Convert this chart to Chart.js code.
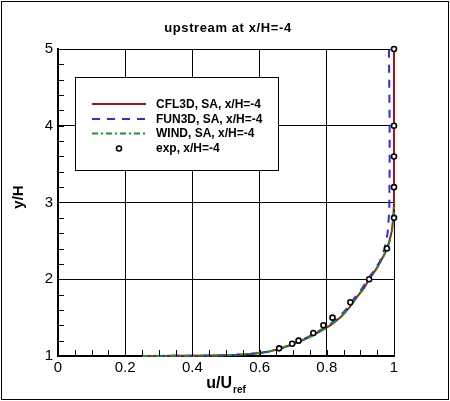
<!DOCTYPE html>
<html>
<head>
<meta charset="utf-8">
<script src="https://cdn.jsdelivr.net/npm/chart.js@4.4.1/dist/chart.umd.min.js"></script>
<style>
  html, body { margin: 0; padding: 0; background: #fff; }
  #wrap { width: 450px; height: 401px; position: relative; }
</style>
</head>
<body>
<div id="wrap"><canvas id="c" width="450" height="401"></canvas></div>
<script>
// ---- data ----
const titleText = "upstream at x/H=-4";
const xLabelMain = "u/U";
const xLabelSub = "ref";
const yLabelText = "y/H";

const seriesNames = ["CFL3D, SA, x/H=-4", "FUN3D, SA, x/H=-4", "WIND, SA, x/H=-4", "exp, x/H=-4"];

const cfl3dU = [0.25, 0.40, 0.48, 0.53, 0.57, 0.60, 0.63, 0.66, 0.69, 0.72, 0.75, 0.78, 0.81, 0.84, 0.865, 0.89, 0.91, 0.926, 0.945, 0.96, 0.975, 0.985, 0.993, 0.998, 1.0, 1.0, 1.0, 1.0, 1.0];
const cfl3dY = [1.0, 1.003, 1.008, 1.015, 1.025, 1.038, 1.06, 1.095, 1.14, 1.19, 1.25, 1.32, 1.40, 1.50, 1.62, 1.77, 1.88, 2.0, 2.12, 2.23, 2.36, 2.48, 2.62, 2.8, 3.0, 3.5, 4.0, 4.5, 5.0];

const fun3dU = [0.25, 0.40, 0.48, 0.53, 0.57, 0.60, 0.63, 0.66, 0.69, 0.715, 0.745, 0.775, 0.805, 0.835, 0.86, 0.885, 0.905, 0.922, 0.942, 0.958, 0.972, 0.981, 0.986, 0.987, 0.987, 0.986, 0.985];
const fun3dY = [1.0, 1.003, 1.008, 1.015, 1.025, 1.038, 1.06, 1.095, 1.14, 1.19, 1.25, 1.32, 1.40, 1.50, 1.62, 1.77, 1.88, 2.0, 2.12, 2.23, 2.4, 2.6, 2.9, 3.5, 4.0, 4.5, 5.0];

const windU = [0.25, 0.40, 0.48, 0.53, 0.57, 0.60, 0.63, 0.66, 0.69, 0.72, 0.75, 0.78, 0.81, 0.84, 0.865, 0.89, 0.91, 0.927, 0.946, 0.961, 0.976, 0.986, 0.994, 0.999, 1.001, 1.001, 1.001, 1.001, 1.001];
const windY = [1.0, 1.003, 1.008, 1.015, 1.025, 1.038, 1.06, 1.095, 1.14, 1.19, 1.25, 1.32, 1.40, 1.50, 1.62, 1.77, 1.88, 2.0, 2.12, 2.23, 2.36, 2.48, 2.62, 2.8, 3.0, 3.5, 4.0, 4.5, 5.0];

const expU = [0.658, 0.697, 0.716, 0.760, 0.790, 0.817, 0.870, 0.926, 0.979, 1.0, 1.0, 1.0, 1.0, 1.0];
const expY = [1.10, 1.16, 1.20, 1.30, 1.40, 1.50, 1.70, 2.00, 2.40, 2.80, 3.20, 3.60, 4.00, 5.00];

const xTicks = [0, 0.2, 0.4, 0.6, 0.8, 1];
const yTicks = [1, 2, 3, 4, 5];

// ---- build ----
const pts = (xs, ys) => xs.map((x, i) => ({ x: x, y: ys[i] }));

const colRed = "rgb(180,14,22)";
const colBlue = "rgb(45,45,225)";
const colGreen = "rgb(25,150,30)";

const datasets = [
  { label: seriesNames[0], data: pts(cfl3dU, cfl3dY), showLine: true, borderColor: colRed, borderWidth: 2, pointRadius: 0, order: 3, clip: 6, legendDash: [] },
  { label: seriesNames[1], data: pts(fun3dU, fun3dY), showLine: true, borderColor: colBlue, borderWidth: 2, borderDash: [8, 7], pointRadius: 0, order: 2, clip: 6, legendDash: [8, 7] },
  { label: seriesNames[2], data: pts(windU, windY), showLine: true, borderColor: colGreen, borderWidth: 2, borderDash: [6, 3, 2, 3], pointRadius: 0, order: 1, clip: 6, legendDash: [6, 3, 2, 3] },
  { label: seriesNames[3], data: pts(expU, expY), showLine: false, borderColor: "#000", backgroundColor: "#fff", borderWidth: 1.6, pointRadius: 2.5, pointStyle: "circle", order: 0, clip: 6 }
];

const decor = {
  id: "decor",
  afterDatasetsDraw(chart) {
    const ctx = chart.ctx;
    const xs = chart.scales.x, ys = chart.scales.y;
    const ca = chart.chartArea;
    ctx.save();
    // minor ticks (inward) on left and bottom axes
    ctx.strokeStyle = "#000";
    ctx.lineWidth = 1;
    for (let v = 0.05; v < 1; v += 0.05) {
      const px = Math.round(xs.getPixelForValue(v)) + 0.5;
      ctx.beginPath(); ctx.moveTo(px, ca.bottom); ctx.lineTo(px, ca.bottom - 6); ctx.stroke();
    }
    for (let v = 1.2; v < 5; v += 0.2) {
      const py = Math.round(ys.getPixelForValue(v)) + 0.5;
      ctx.beginPath(); ctx.moveTo(ca.left, py); ctx.lineTo(ca.left + 6, py); ctx.stroke();
    }
    // legend box
    const bx = 75.5, by = 77.5, bw = 203, bh = 93;
    ctx.fillStyle = "#fff";
    ctx.fillRect(bx, by, bw, bh);
    ctx.strokeStyle = "#000"; ctx.lineWidth = 1;
    ctx.strokeRect(bx, by, bw, bh);
    const rowsY = [104, 119, 133.5, 148.5];
    ctx.font = "bold 12px 'Liberation Sans', Arial, sans-serif";
    ctx.textBaseline = "middle";
    ctx.textAlign = "left";
    chart.data.datasets.forEach((ds, i) => {
      const y = rowsY[i];
      if (ds.showLine) {
        ctx.strokeStyle = ds.borderColor; ctx.lineWidth = 2;
        ctx.setLineDash(ds.legendDash);
        ctx.beginPath(); ctx.moveTo(92, y); ctx.lineTo(146, y); ctx.stroke();
        ctx.setLineDash([]);
      } else {
        ctx.strokeStyle = "#000"; ctx.lineWidth = 1.6; ctx.fillStyle = "#fff";
        ctx.beginPath(); ctx.arc(119, y, 2.5, 0, Math.PI * 2); ctx.fill(); ctx.stroke();
      }
      ctx.fillStyle = "#000";
      ctx.fillText(ds.label, 156, y + 0.5);
    });
    ctx.restore();
  },
  afterDraw(chart) {
    const ctx = chart.ctx;
    ctx.save();
    ctx.fillStyle = "#000";
    // title
    ctx.font = "bold 13px 'Liberation Sans', Arial, sans-serif";
    try { ctx.letterSpacing = "0.6px"; } catch (e) {}
    ctx.textAlign = "center"; ctx.textBaseline = "alphabetic";
    ctx.fillText(titleText, 228, 32);
    try { ctx.letterSpacing = "0px"; } catch (e) {}
    // y label
    ctx.save();
    ctx.translate(19, 197);
    ctx.rotate(-Math.PI / 2);
    ctx.font = "bold 15px 'Liberation Sans', Arial, sans-serif";
    ctx.textAlign = "center"; ctx.textBaseline = "middle";
    ctx.fillText(yLabelText, 0, 0);
    ctx.restore();
    // x label with subscript
    ctx.font = "bold 16px 'Liberation Sans', Arial, sans-serif";
    const wMain = ctx.measureText(xLabelMain).width;
    ctx.font = "bold 10px 'Liberation Sans', Arial, sans-serif";
    const wSub = ctx.measureText(xLabelSub).width;
    const start = 226 - (wMain + 1 + wSub) / 2;
    ctx.textAlign = "left"; ctx.textBaseline = "alphabetic";
    ctx.font = "bold 16px 'Liberation Sans', Arial, sans-serif";
    ctx.fillText(xLabelMain, start, 388);
    ctx.font = "bold 10px 'Liberation Sans', Arial, sans-serif";
    ctx.fillText(xLabelSub, start + wMain + 1, 393);
    // outer frame
    ctx.strokeStyle = "#000"; ctx.lineWidth = 1;
    ctx.strokeRect(1.5, 1.5, 447, 398);
    ctx.restore();
  }
};

new Chart(document.getElementById("c"), {
  type: "scatter",
  data: { datasets: datasets },
  options: {
    responsive: false,
    animation: false,
    devicePixelRatio: 1,
    layout: { padding: { top: 49, right: 56, bottom: 0, left: 0 } },
    plugins: { legend: { display: false }, title: { display: false }, tooltip: { enabled: false } },
    elements: { line: { tension: 0 } },
    scales: {
      x: {
        type: "linear", min: 0, max: 1,
        afterFit: (s) => { s.height = 45; },
        afterBuildTicks: (s) => { s.ticks = xTicks.map(v => ({ value: v })); },
        ticks: {
          padding: 3, color: "#000",
          font: { family: "'Liberation Sans', Arial, sans-serif", size: 15 },
          callback: (v) => String(v)
        },
        grid: { color: "#000", lineWidth: 1, drawTicks: false },
        border: { color: "#000", width: 2 }
      },
      y: {
        type: "linear", min: 1, max: 5,
        afterFit: (s) => { s.width = 58; },
        afterBuildTicks: (s) => { s.ticks = yTicks.map(v => ({ value: v })); },
        ticks: {
          padding: 5, color: "#000",
          font: { family: "'Liberation Sans', Arial, sans-serif", size: 15 },
          callback: (v) => String(v)
        },
        grid: { color: "#000", lineWidth: 1, drawTicks: false },
        border: { color: "#000", width: 2 }
      }
    }
  },
  plugins: [decor]
});
</script>
</body>
</html>
